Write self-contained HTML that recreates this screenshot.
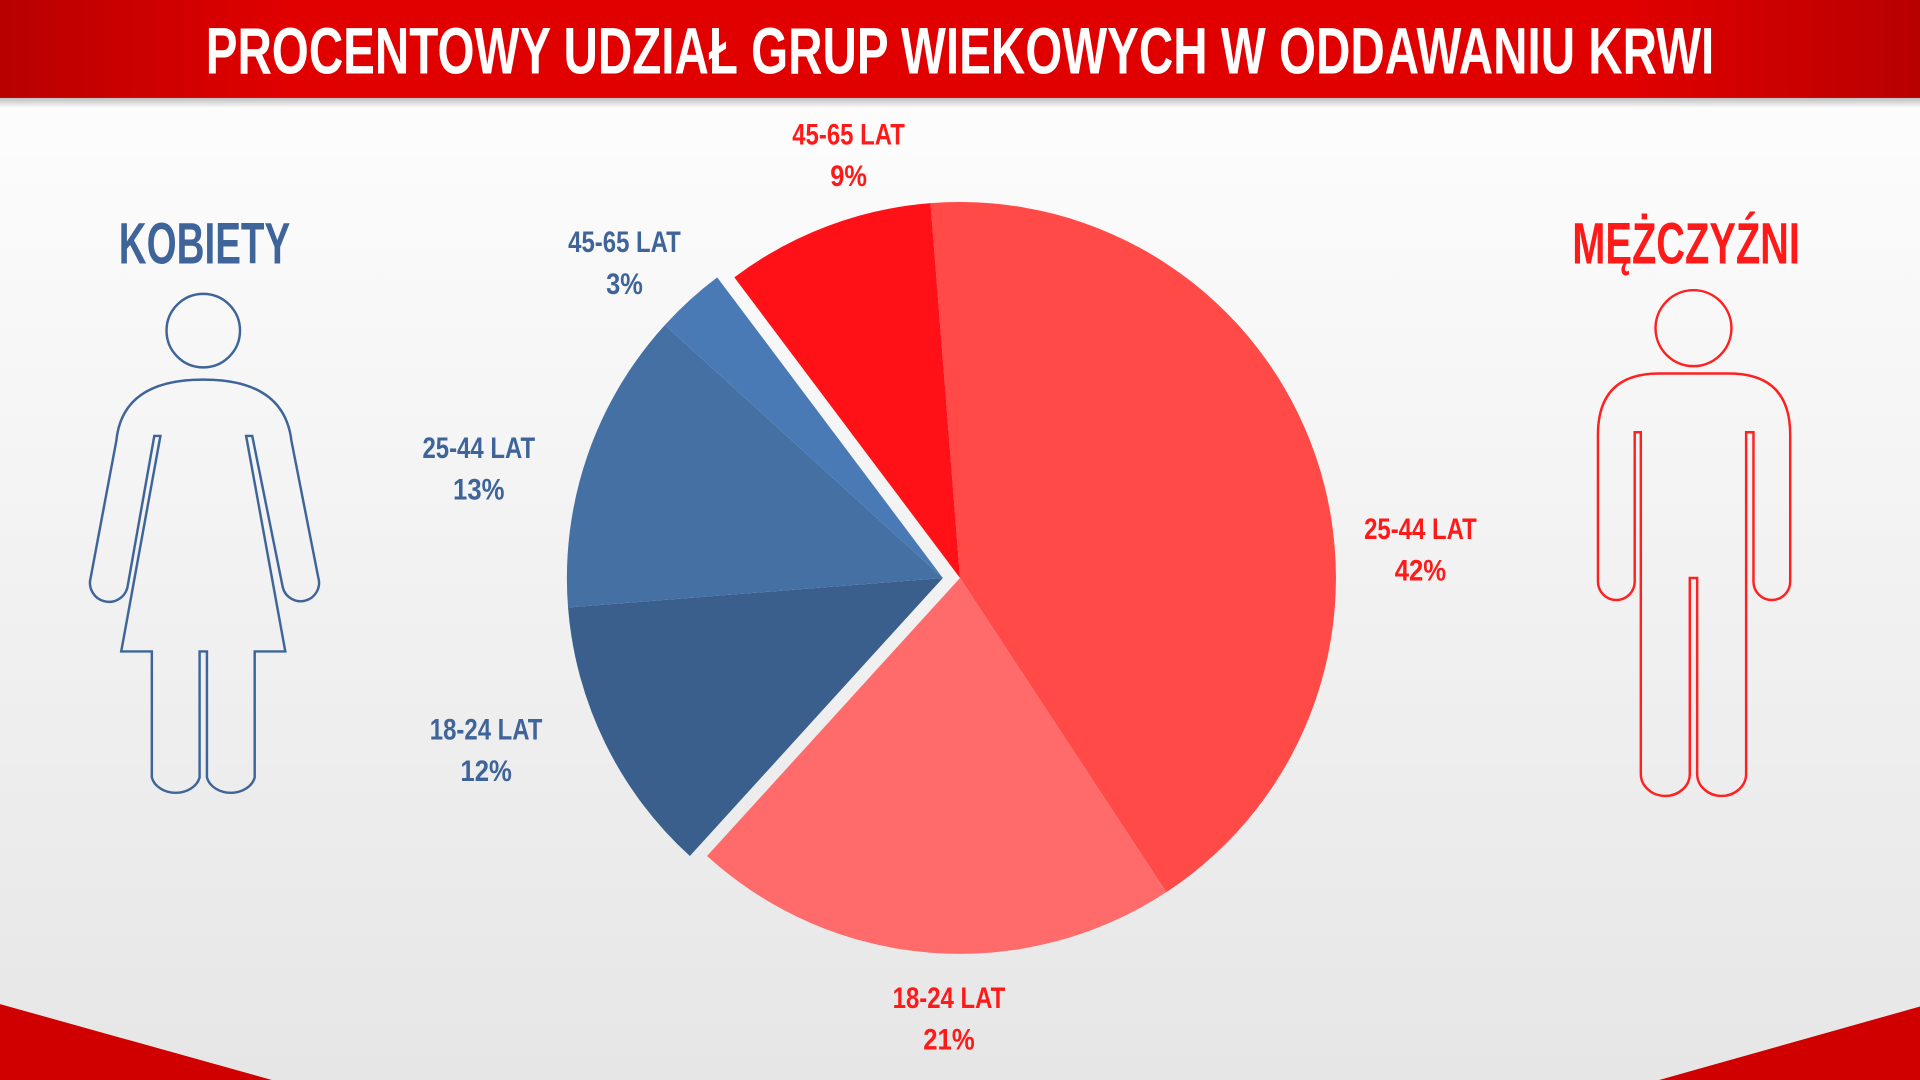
<!DOCTYPE html>
<html><head><meta charset="utf-8">
<style>
html,body{margin:0;padding:0;width:1920px;height:1080px;overflow:hidden;background:#fff}
svg{display:block}
text{font-family:"Liberation Sans Narrow","Liberation Sans",sans-serif;font-weight:bold}
</style></head>
<body>
<svg width="1920" height="1080" viewBox="0 0 1568 882" preserveAspectRatio="none">
<defs>
<linearGradient id="bg" x1="0" y1="0" x2="0" y2="1">
<stop offset="0" stop-color="#ffffff"/><stop offset="1" stop-color="#e6e6e6"/></linearGradient>
<linearGradient id="hd" x1="0" y1="0" x2="1" y2="0">
<stop offset="0" stop-color="#b80000"/><stop offset="0.15" stop-color="#e00000"/>
<stop offset="0.85" stop-color="#e00000"/><stop offset="1" stop-color="#b80000"/></linearGradient>
<linearGradient id="sh" x1="0" y1="0" x2="0" y2="1">
<stop offset="0" stop-color="#000" stop-opacity="0.25"/><stop offset="1" stop-color="#000" stop-opacity="0"/></linearGradient>
</defs>
<rect width="1568" height="882" fill="url(#bg)"/>
<rect y="80" width="1568" height="8" fill="url(#sh)"/>
<rect width="1568" height="80" fill="url(#hd)"/>
<text x="784" y="60" text-anchor="middle" fill="#fff" font-size="54" textLength="1232" lengthAdjust="spacingAndGlyphs">PROCENTOWY UDZIAŁ GRUP WIEKOWYCH W ODDAWANIU KRWI</text>
<polygon points="0,820 222,882 0,882" fill="#d00000"/>
<polygon points="1568,822 1355,882 1568,882" fill="#d00000"/>

<path d="M784,472 L759.9,165.9 A307,307 0 0 1 952.5,728.6 Z" fill="#ff4a47"/>
<path d="M784,472 L952.5,728.6 A307,307 0 0 1 577.4,699.1 Z" fill="#ff6b6b"/>
<path d="M784,472 L599.7,226.5 A307,307 0 0 1 759.9,165.9 Z" fill="#ff1117"/>
<path d="M770,472 L563.4,699.1 A307,307 0 0 1 463.9,496.1 Z" fill="#3a5f8c"/>
<path d="M770,472 L463.9,496.1 A307,307 0 0 1 543.0,265.4 Z" fill="#4470a3"/>
<path d="M770,472 L543.0,265.4 A307,307 0 0 1 585.7,226.5 Z" fill="#4a7ab5"/>

<g font-size="24" text-anchor="middle">
<g fill="#ff1a1a">
<text x="693" y="118" textLength="92" lengthAdjust="spacingAndGlyphs">45-65 LAT</text><text x="693" y="152" textLength="30" lengthAdjust="spacingAndGlyphs">9%</text>
<text x="1160" y="440" textLength="92" lengthAdjust="spacingAndGlyphs">25-44 LAT</text><text x="1160" y="474" textLength="42" lengthAdjust="spacingAndGlyphs">42%</text>
<text x="775" y="823" textLength="92" lengthAdjust="spacingAndGlyphs">18-24 LAT</text><text x="775" y="857" textLength="42" lengthAdjust="spacingAndGlyphs">21%</text>
</g>
<g fill="#3e6499">
<text x="510" y="206" textLength="92" lengthAdjust="spacingAndGlyphs">45-65 LAT</text><text x="510" y="240" textLength="30" lengthAdjust="spacingAndGlyphs">3%</text>
<text x="391" y="374" textLength="92" lengthAdjust="spacingAndGlyphs">25-44 LAT</text><text x="391" y="408" textLength="42" lengthAdjust="spacingAndGlyphs">13%</text>
<text x="397" y="604" textLength="92" lengthAdjust="spacingAndGlyphs">18-24 LAT</text><text x="397" y="638" textLength="42" lengthAdjust="spacingAndGlyphs">12%</text>
</g>
</g>
<text x="167" y="215" text-anchor="middle" font-size="48" fill="#3e6499" textLength="140" lengthAdjust="spacingAndGlyphs">KOBIETY</text>
<text x="1377" y="215" text-anchor="middle" font-size="48" fill="#ff1a1a" textLength="186" lengthAdjust="spacingAndGlyphs">MĘŻCZYŹNI</text>

<g fill="none" stroke="#3e6499" stroke-width="2">
<circle cx="166" cy="270" r="30"/>
<path d="M95,360 Q100,310 166,310 Q232,310 238,360 L260,472 A14,14 0 0 1 231,480 L206,356 L201,356 L233,532 L208,532 L208,635 A20,16 0 0 1 169,635 L169,532 L163,532 L163,635 A20,16 0 0 1 124,635 L124,532 L99,532 L131,356 L126,356 L104,480 A14,14 0 0 1 74,472 Z"/>
</g>
<g fill="none" stroke="#ff2020" stroke-width="2">
<circle cx="1383" cy="268" r="31"/>
<path d="M1305,355 Q1305,305 1355,305 L1412,305 Q1462,305 1462,355 L1462,475 A15,15 0 0 1 1432,475 L1432,353 L1426,353 L1426,632 A20,18 0 0 1 1386,632 L1386,472 L1380,472 L1380,632 A20,18 0 0 1 1340,632 L1340,353 L1335,353 L1335,475 A15,15 0 0 1 1305,475 Z"/>
</g>
</svg>
</body></html>
